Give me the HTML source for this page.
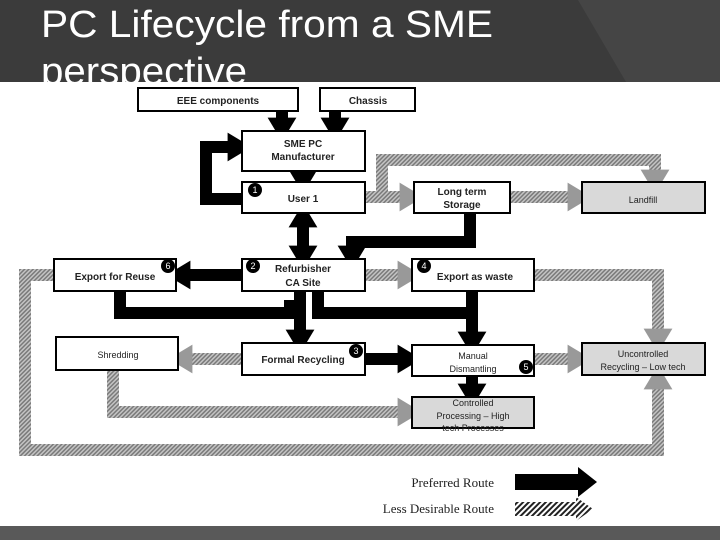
<!DOCTYPE html>
<html><head><meta charset="utf-8"><style>
html,body{margin:0;padding:0;background:#fff;width:720px;height:540px;overflow:hidden}
svg{display:block}
</style></head><body>
<svg width="720" height="540" viewBox="0 0 720 540" xmlns="http://www.w3.org/2000/svg" font-family="Liberation Sans, sans-serif">
<defs>
<pattern id="h" width="3" height="3" patternUnits="userSpaceOnUse" patternTransform="rotate(45)">
<rect width="3" height="3" fill="#c4c4c4"/><rect width="1.5" height="3" fill="#7a7a7a"/>
</pattern>
<pattern id="h2" width="4" height="4" patternUnits="userSpaceOnUse" patternTransform="rotate(45)">
<rect width="4" height="4" fill="#fff"/><rect width="2" height="4" fill="#222"/>
</pattern>
<marker id="ab" markerWidth="2" markerHeight="2.4" refX="0.2" refY="1.2" orient="auto"><path d="M0,0 L2,1.2 L0,2.4 Z" fill="#000"/></marker>
<marker id="ag" markerWidth="2" markerHeight="2.4" refX="0.2" refY="1.2" orient="auto"><path d="M0,0 L2,1.2 L0,2.4 Z" fill="#999"/></marker>
</defs>
<!-- header -->
<rect x="0" y="0" width="720" height="82" fill="#3b3b3b"/>
<polygon points="578,0 720,0 720,82 626,82" fill="#454545"/>
<text x="41" y="37" font-size="38" fill="#fff" textLength="452" lengthAdjust="spacingAndGlyphs">PC Lifecycle from a SME</text>
<svg x="0" y="0" width="720" height="82"><text x="41" y="84" font-size="38" fill="#fff" textLength="206" lengthAdjust="spacingAndGlyphs">perspective</text></svg>
<rect x="0" y="526" width="720" height="14" fill="#595959"/>

<!-- gray hatched connectors -->
<g fill="none" stroke="url(#h)" stroke-width="12">
<path d="M365,197 H402" marker-end="url(#ag)"/>
<path d="M382,197 V160 H655 V172" marker-end="url(#ag)"/>
<path d="M510,197 H570" marker-end="url(#ag)"/>
<path d="M365,275 H400" marker-end="url(#ag)"/>
<path d="M534,275 H658 V331" marker-end="url(#ag)"/>
<path d="M242,359 H190" marker-end="url(#ag)"/>
<path d="M534,359 H570" marker-end="url(#ag)"/>
<path d="M113,370 V412 H400" marker-end="url(#ag)"/>
<path d="M54,275 H25 V450 H658 V387" marker-end="url(#ag)"/>
</g>
<!-- black connectors -->
<g fill="none" stroke="#000" stroke-width="12">
<path d="M282,111 V120" marker-end="url(#ab)"/>
<path d="M335,111 V120" marker-end="url(#ab)"/>
<path d="M242,199 H206 V147 H230" marker-end="url(#ab)"/>
<path d="M303,171 V172" marker-end="url(#ab)"/>
<path d="M303,236 V248" marker-end="url(#ab)"/>
<path d="M303,236 V225" marker-end="url(#ab)"/>
<path d="M470,213 V242 H352 V248" marker-end="url(#ab)"/>
<path d="M242,275 H188" marker-end="url(#ab)"/>
<path d="M120,291 V313 H290 V300"/>
<path d="M300,291 V332" marker-end="url(#ab)"/>
<path d="M318,291 V313 H470"/>
<path d="M472,291 V334" marker-end="url(#ab)"/>
<path d="M365,359 H400" marker-end="url(#ab)"/>
<path d="M472,376 V386" marker-end="url(#ab)"/>
</g>

<!-- boxes -->
<g stroke="#000" stroke-width="2" fill="#fff">
<rect x="138" y="88" width="160" height="23"/>
<rect x="320" y="88" width="95" height="23"/>
<rect x="242" y="131" width="123" height="40"/>
<rect x="242" y="182" width="123" height="31"/>
<rect x="414" y="182" width="96" height="31"/>
<rect x="582" y="182" width="123" height="31" fill="#d9d9d9"/>
<rect x="54" y="259" width="122" height="32"/>
<rect x="242" y="259" width="123" height="32"/>
<rect x="412" y="259" width="122" height="32"/>
<rect x="56" y="337" width="122" height="33"/>
<rect x="242" y="343" width="123" height="32"/>
<rect x="412" y="345" width="122" height="31"/>
<rect x="582" y="343" width="123" height="32" fill="#d9d9d9"/>
<rect x="412" y="397" width="122" height="31" fill="#d9d9d9"/>
</g>
<g font-size="10" fill="#222" text-anchor="middle">
<text x="218" y="104" font-weight="bold" font-size="10">EEE components</text>
<text x="368" y="104" font-weight="bold">Chassis</text>
<text x="303" y="147" font-weight="bold">SME PC</text>
<text x="303" y="160" font-weight="bold">Manufacturer</text>
<text x="303" y="202" font-weight="bold">User 1</text>
<text x="462" y="195" font-weight="bold">Long term</text>
<text x="462" y="208" font-weight="bold">Storage</text>
<text x="643" y="203" font-size="9">Landfill</text>
<text x="115" y="280" font-weight="bold">Export for Reuse</text>
<text x="303" y="272" font-weight="bold">Refurbisher</text>
<text x="303" y="286" font-weight="bold">CA Site</text>
<text x="475" y="280" font-weight="bold">Export as waste</text>
<text x="118" y="358" font-size="9">Shredding</text>
<text x="303" y="363" font-weight="bold">Formal Recycling</text>
<text x="473" y="359" font-size="9">Manual</text>
<text x="473" y="372" font-size="9">Dismantling</text>
<text x="643" y="357" font-size="9">Uncontrolled</text>
<text x="643" y="370" font-size="9">Recycling – Low tech</text>
<text x="473" y="406" font-size="9">Controlled</text>
<text x="473" y="419" font-size="9">Processing – High</text>
<text x="473" y="431" font-size="9">tech Processes</text>
</g>
<!-- badges -->
<g fill="#000"><circle cx="255" cy="190" r="7"/><circle cx="253" cy="266" r="7"/><circle cx="168" cy="266" r="7"/><circle cx="424" cy="266" r="7"/><circle cx="356" cy="351" r="7"/><circle cx="526" cy="367" r="7"/></g>
<g fill="#fff" font-size="9" text-anchor="middle">
<text x="255" y="193">1</text><text x="253" y="269">2</text><text x="168" y="269">6</text><text x="424" y="269">4</text><text x="356" y="354">3</text><text x="526" y="370">5</text>
</g>
<!-- legend -->
<g font-family="Liberation Serif, serif" font-size="13" fill="#222" text-anchor="end">
<text x="494" y="487">Preferred Route</text>
<text x="494" y="513">Less Desirable Route</text>
</g>
<polygon points="515,474 578,474 578,467 597,482 578,497 578,490 515,490" fill="#000"/>
<polygon points="515,502 576,502 576,497 593,509 576,521 576,516 515,516" fill="url(#h2)"/>
</svg>
</body></html>
